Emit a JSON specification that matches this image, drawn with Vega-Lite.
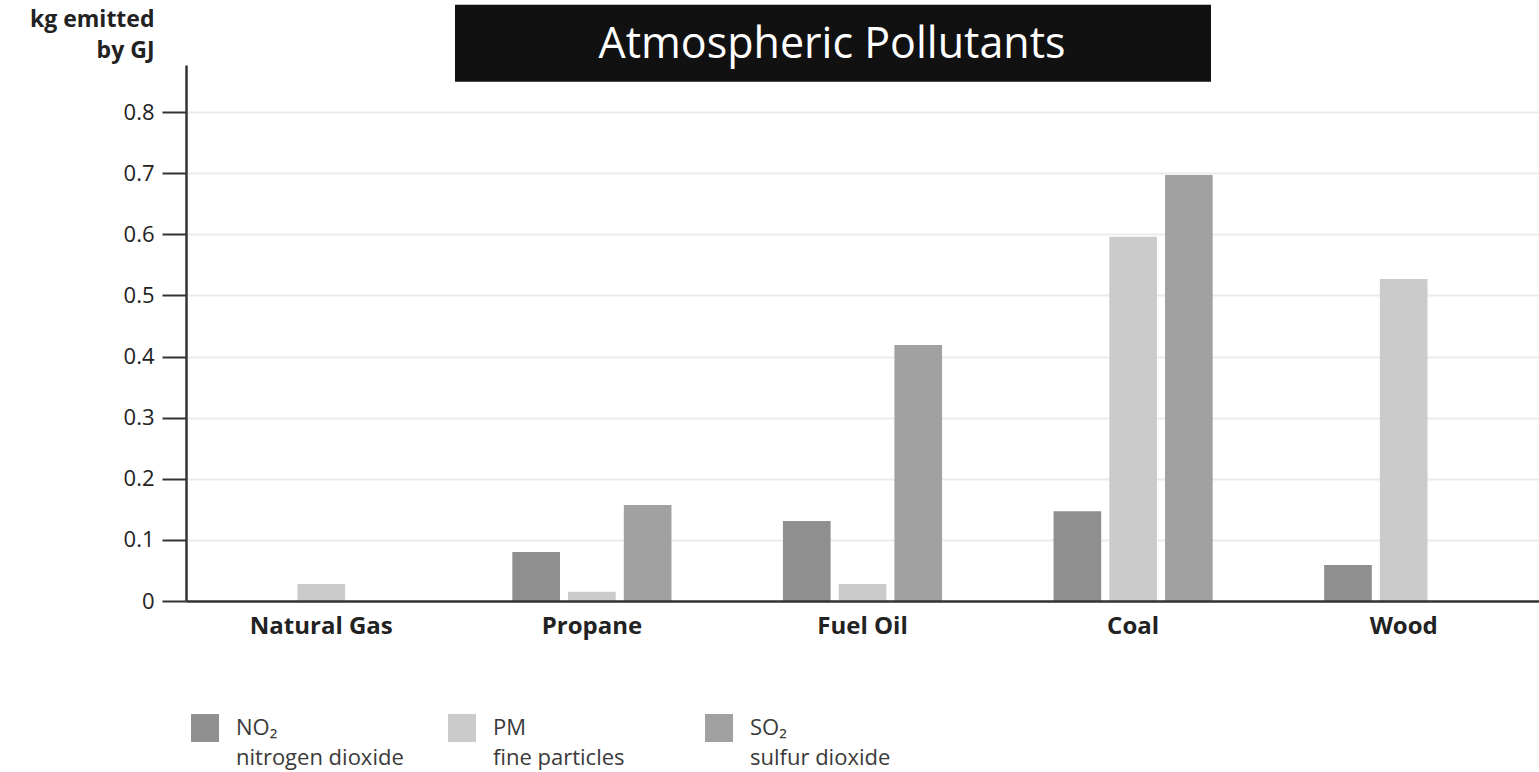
{
  "$schema": "https://vega.github.io/schema/vega-lite/v6.json",
  "width": 1353,
  "height": 536,
  "autosize": {"type": "none"},
  "padding": {"left": 186, "top": 65, "right": 0, "bottom": 171},
  "background": "white",
  "config": {
    "view": {"stroke": null},
    "font": "Open Sans",
    "style": {"guide-label": {"lineHeight": 30}}
  },
  "layer": [
    {
      "data": {
        "values": [
          {"fuel": "Natural Gas", "pollutant": "NO2", "value": 0},
          {"fuel": "Natural Gas", "pollutant": "PM", "value": 0.028},
          {"fuel": "Natural Gas", "pollutant": "SO2", "value": 0},
          {"fuel": "Propane", "pollutant": "NO2", "value": 0.080},
          {"fuel": "Propane", "pollutant": "PM", "value": 0.015},
          {"fuel": "Propane", "pollutant": "SO2", "value": 0.157},
          {"fuel": "Fuel Oil", "pollutant": "NO2", "value": 0.131},
          {"fuel": "Fuel Oil", "pollutant": "PM", "value": 0.028},
          {"fuel": "Fuel Oil", "pollutant": "SO2", "value": 0.419},
          {"fuel": "Coal", "pollutant": "NO2", "value": 0.147},
          {"fuel": "Coal", "pollutant": "PM", "value": 0.596},
          {"fuel": "Coal", "pollutant": "SO2", "value": 0.697},
          {"fuel": "Wood", "pollutant": "NO2", "value": 0.059},
          {"fuel": "Wood", "pollutant": "PM", "value": 0.527},
          {"fuel": "Wood", "pollutant": "SO2", "value": 0}
        ]
      },
      "mark": {"type": "bar"},
      "encoding": {
        "x": {
          "field": "fuel",
          "type": "nominal",
          "sort": ["Natural Gas", "Propane", "Fuel Oil", "Coal", "Wood"],
          "scale": {"paddingInner": 0, "paddingOuter": 0},
          "axis": {
            "title": null,
            "ticks": false,
            "domainColor": "#333333",
            "domainWidth": 2.5,
            "labelAngle": 0,
            "labelFont": "Open Sans",
            "labelFontWeight": "bold",
            "labelFontSize": 24,
            "labelColor": "#222222",
            "labelPadding": 13,
            "zindex": 1
          }
        },
        "xOffset": {
          "field": "pollutant",
          "type": "nominal",
          "sort": ["NO2", "PM", "SO2"],
          "scale": {"paddingInner": 0.145, "paddingOuter": 1.06}
        },
        "y": {
          "field": "value",
          "type": "quantitative",
          "scale": {"domain": [0, 0.877], "nice": false, "zero": true},
          "axis": {
            "title": ["kg emitted", "by GJ"],
            "titleAngle": 0,
            "titleAlign": "right",
            "titleBaseline": "top",
            "titleX": -32,
            "titleY": -57,
            "titleFont": "Open Sans",
            "titleFontWeight": "bold",
            "titleFontSize": 23,
            "titleColor": "#222222",
            "titleLineHeight": 31,
            "values": [0, 0.1, 0.2, 0.3, 0.4, 0.5, 0.6, 0.7, 0.8],
            "labelExpr": "datum.value == 0 ? '0' : format(datum.value, '.1f')",
            "labelFont": "Open Sans",
            "labelFontSize": 22,
            "labelColor": "#222222",
            "labelPadding": 8,
            "tickSize": 24,
            "tickWidth": 2,
            "tickColor": "#333333",
            "domainColor": "#333333",
            "domainWidth": 2.5,
            "grid": true,
            "gridColor": "#ebebeb",
            "gridWidth": 2
          }
        },
        "color": {
          "field": "pollutant",
          "type": "nominal",
          "sort": ["NO2", "PM", "SO2"],
          "scale": {"domain": ["NO2", "PM", "SO2"], "range": ["#8f8f8f", "#cbcbcb", "#a1a1a1"]},
          "legend": {
            "title": null,
            "orient": "none",
            "legendX": 5,
            "legendY": 649,
            "direction": "horizontal",
            "columns": 3,
            "columnPadding": 44,
            "gridAlign": "all",
            "symbolType": "square",
            "symbolSize": 784,
            "symbolStrokeWidth": 0,
            "symbolOpacity": 1,
            "labelOffset": 17,
            "labelFont": "Open Sans",
            "labelFontSize": 22,
            "labelColor": "#3a3a3a",
            "labelLimit": 400,
            "labelExpr": "datum.label == 'NO2' ? ['NO₂', 'nitrogen dioxide'] : datum.label == 'PM' ? ['PM', 'fine particles'] : ['SO₂', 'sulfur dioxide']"
          }
        }
      }
    },
    {
      "data": {"values": [{"title": "Atmospheric  Pollutants"}]},
      "layer": [
        {
          "mark": {"type": "rect", "color": "#111111", "clip": false},
          "encoding": {
            "x": {"datum": 269, "type": "quantitative", "scale": {"domain": [0, 1353], "nice": false, "zero": false}, "axis": null},
            "x2": {"datum": 1025},
            "y": {"datum": 0.9755, "type": "quantitative"},
            "y2": {"datum": 0.8494}
          }
        },
        {
          "mark": {"type": "text", "color": "white", "font": "Open Sans", "fontSize": 43, "align": "center", "baseline": "alphabetic", "clip": false},
          "encoding": {
            "text": {"field": "title"},
            "x": {"datum": 646, "type": "quantitative", "axis": null},
            "y": {"datum": 0.8882, "type": "quantitative"}
          }
        }
      ]
    }
  ],
  "resolve": {"scale": {"x": "independent", "xOffset": "independent"}, "axis": {"x": "independent"}}
}
